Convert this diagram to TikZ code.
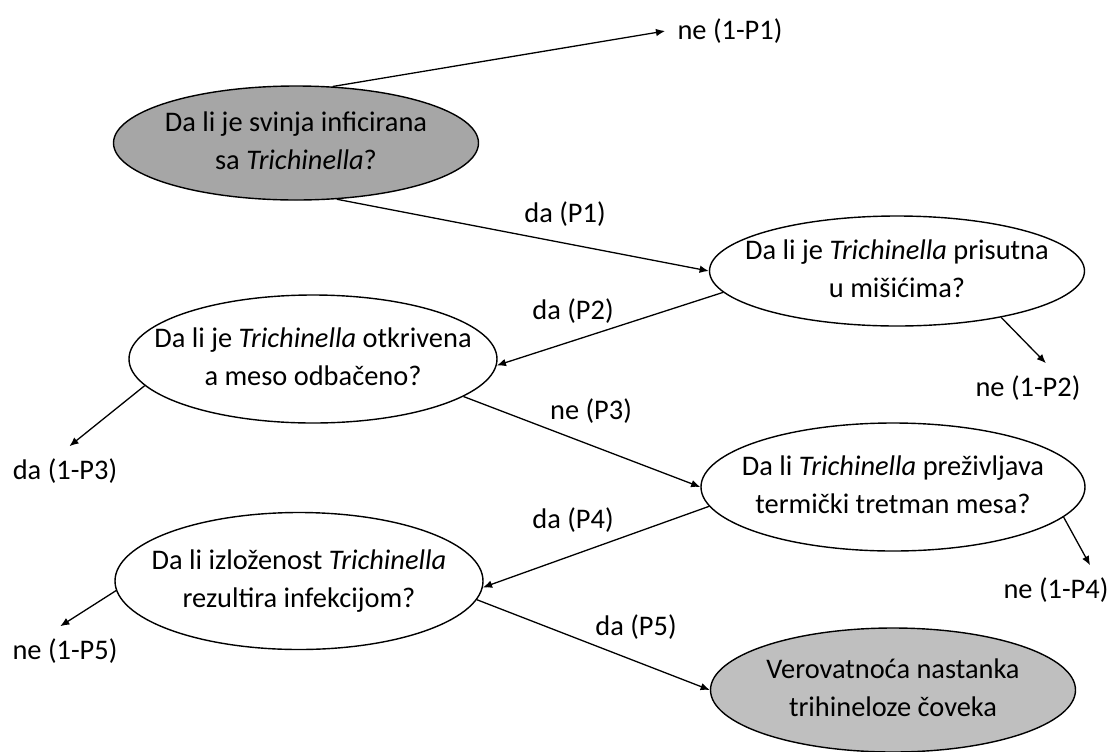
\documentclass[tikz,border=0pt]{standalone}
\usepackage{fontspec}
\setmainfont{Carlito}
\usepackage{tikz}
\usetikzlibrary{arrows.meta,shapes.geometric,positioning}
\definecolor{pigfill}{HTML}{A6A6A6}
\definecolor{humanfill}{HTML}{BFBFBF}
\newcommand{\twoline}[1]{\makebox[0pt]{\begin{tabular}{@{}c@{}}#1\end{tabular}}}
\tikzset{%
	question/.style 2 args = {draw, ellipse, line width=0.7pt, inner sep=0pt, minimum width=#1, minimum height=#2, font=\fontsize{14.2}{19}\selectfont},
	outcome/.style         = {inner sep=6pt, font=\fontsize{14.2}{19}\selectfont},
	arrow/.style           = {line width=0.65pt,-{Latex[length=4.6pt,width=3.8pt]}},
}
\begin{document}
\begin{tikzpicture}[x=0.5pt,y=-0.5pt]
	\useasboundingbox (0,0) rectangle (1110,751);
	\node[question={182.5pt}{57pt}, fill=pigfill] (infected) at (296,143) {\twoline{Da li je svinja inficirana\\ sa \textit{Trichinella}?}};
	\node[question={187.5pt}{55pt}] (muscle) at (897,271) {\twoline{Da li je \textit{Trichinella} prisutna\\ u mišićima?}};
	\node[question={184pt}{64pt}] (detected) at (313,359) {\twoline{Da li je \textit{Trichinella} otkrivena\\ a meso odbačeno?}};
	\node[question={192pt}{64pt}] (cooking) at (893,487) {\twoline{Da li \textit{Trichinella} preživljava\\ termički tretman mesa?}};
	\node[question={184pt}{68.5pt}] (exposure) at (299,581) {\twoline{Da li izloženost \textit{Trichinella}\\ rezultira infekcijom?}};
	\node[question={182.5pt}{62pt}, fill=humanfill] (human) at (893,690) {\twoline{Verovatnoća nastanka\\ trihineloze čoveka}};
	
	\node[outcome] (noP1) at (730,31) {ne (1-P1)};
	\node[outcome] (yesP1) at (565,214) {da (P1)};
	\node[outcome] (yesP2) at (573,311) {da (P2)};
	\node[outcome] (noP2) at (1028,388) {ne (1-P2)};
	\node[outcome] (noP3) at (591,411) {ne (P3)};
	\node[outcome] (yesP3) at (65,471) {da (1-P3)};
	\node[outcome] (yesP4) at (573,520) {da (P4)};
	\node[outcome] (noP4) at (1056,590) {ne (1-P4)};
	\node[outcome] (yesP5) at (636,627) {da (P5)};
	\node[outcome] (noP5) at (65,651) {ne (1-P5)};
	
	\draw[arrow] (infected.57) -- (noP1.west);
	\draw[arrow] (infected.-54) -- (muscle.west);
	\draw[arrow] (muscle.187) -- (detected.-2);
	\draw[arrow] (muscle.-24) -- (noP2.54);
	\draw[arrow] (detected.189) -- (yesP3.80);
	\draw[arrow] (detected.-14) -- (cooking.west);
	\draw[arrow] (cooking.186) -- (exposure.-2);
	\draw[arrow] (cooking.-10) -- (noP4.36);
	\draw[arrow] (exposure.183) -- (noP5.101);
	\draw[arrow] (exposure.-6) -- (human.west);
\end{tikzpicture}
\end{document}
